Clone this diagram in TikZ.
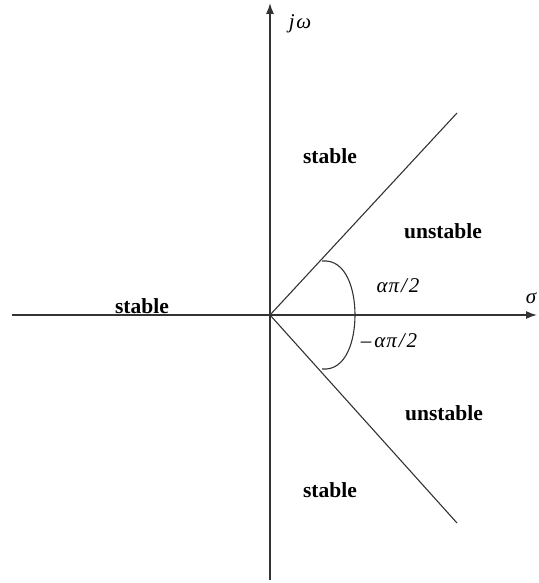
\documentclass[tikz,border=0pt]{standalone}
\usepackage{fontspec}
\setmainfont{Liberation Serif}
\usetikzlibrary{arrows.meta}
\tikzset{
  region/.style={font=\fontsize{21.5}{24}\selectfont\bfseries, inner sep=0pt},
  mathlbl/.style={font=\fontsize{21}{23}\selectfont\itshape, inner sep=0pt},
  axis/.style={line width=1.4pt, draw=black!80, -{Latex[length=11pt,width=8pt]}},
  bound/.style={line width=1.1pt, draw=black!80},
}
\begin{document}
\begin{tikzpicture}[x=1pt,y=-1pt]
\useasboundingbox (0,0) rectangle (538,583);
\coordinate (O) at (270,315);
\coordinate (xl) at (12,315);
\coordinate (xr) at (537,315);
\coordinate (yb) at (270,580);
\coordinate (yt) at (270,3);
\coordinate (ue) at (457,113);
\coordinate (le) at (457,523);
\coordinate (ap) at (322,261);
\coordinate (am) at (355,315);
\coordinate (an) at (322,369);
\draw[axis] (xl) -- (xr);
\draw[axis] (yb) -- (yt);
\draw[bound] (O) -- (ue);
\draw[bound] (O) -- (le);
\draw[bound] (ap) to[out=5,in=90] (am) to[out=-90,in=-5] (an);
\node[mathlbl] (jw) at (300,24) {j\kern1.5ptω};
\node[mathlbl] (sig) at (531,298) {σ};
\node[mathlbl] (pa) at (398,286) {α\kern1ptπ\kern2pt/\kern2pt2};
\node[mathlbl] (na) at (389,341) {–\kern3ptα\kern1ptπ\kern2pt/\kern2pt2};
\node[region] (s1) at (330,156) {stable};
\node[region] (u1) at (443,231) {unstable};
\node[region] (s2) at (142,306) {stable};
\node[region] (u2) at (444,413) {unstable};
\node[region] (s3) at (330,490) {stable};
\end{tikzpicture}
\end{document}
